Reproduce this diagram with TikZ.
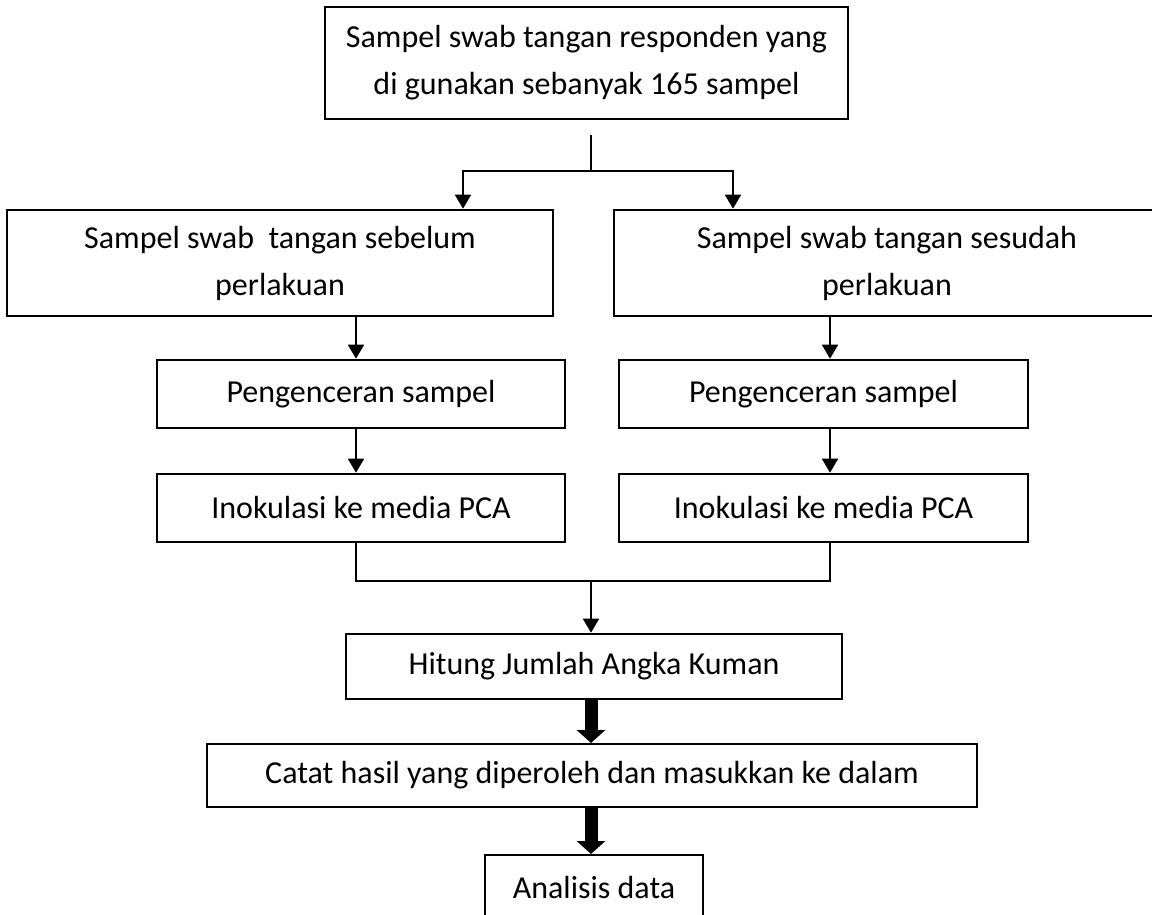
\documentclass[tikz,border=0pt]{standalone}
\usepackage{fontspec}
\setmainfont{Carlito}
\usetikzlibrary{arrows.meta}
\usetikzlibrary{calc}

\begin{document}
\begin{tikzpicture}[x=1pt, y=-1pt,
	box/.style={draw, line width=2.6pt, inner sep=0pt, align=center, font=\fontsize{32}{47}\selectfont},
	arr/.style={-{Triangle[width=16pt,length=14pt]}, line width=1.8pt},
	fatarr/.style={-{Triangle[width=28pt,length=13pt]}, line width=13pt},
	thinline/.style={line width=1.1pt}]
\useasboundingbox (0,0) rectangle (1152,915);

\node[box, minimum width=523pt, minimum height=112pt] (top) at (586.5,63) {Sampel swab tangan responden yang\\di gunakan sebanyak 165 sampel};

\node[box, minimum width=546pt, minimum height=106pt] (pre1) at (280,263) {Sampel swab\ \ tangan sebelum\\perlakuan};
\node[box, minimum width=546pt, minimum height=106pt] (post1) at (887,263) {Sampel swab tangan sesudah\\perlakuan\hspace{12pt}};

\node[box, minimum width=408pt, minimum height=68pt] (pre2) at (361,394) {Pengenceran sampel};
\node[box, minimum width=409pt, minimum height=68pt] (post2) at (823.5,394) {Pengenceran sampel};

\node[box, minimum width=408pt, minimum height=68pt] (pre3) at (361,508) {Inokulasi ke media PCA};
\node[box, minimum width=409pt, minimum height=68pt] (post3) at (823.5,508) {Inokulasi ke media PCA};

\node[box, minimum width=496pt, minimum height=65pt] (count) at (594,666.5) {Hitung Jumlah Angka Kuman};
\node[box, line width=2pt, minimum width=770pt, minimum height=63pt] (note) at (592,775.5) {Catat hasil yang diperoleh dan masukkan ke dalam};
\node[box, line width=2pt, minimum width=218pt, anchor=north, text height=43pt, text depth=40pt] (anal) at (594,854) {Analisis data};

% split below the first box
\coordinate (s0) at (591,135);
\coordinate (s1) at (591,171);
\coordinate (xl) at (356,0);
\coordinate (xr) at (830,0);
\coordinate (m1) at (591,581);

\draw[thinline] (s0) -- (s1);
\draw[arr] (s1) -| (pre1.north -| 463,0);
\draw[arr] (s1) -| (post1.north -| 733,0);

\draw[arr] (pre1.south -| xl) -- (pre2.north -| xl);
\draw[arr] (pre2.south -| xl) -- (pre3.north -| xl);
\draw[arr] (post1.south -| xr) -- (post2.north -| xr);
\draw[arr] (post2.south -| xr) -- (post3.north -| xr);

% merge
\draw[thinline] (pre3.south -| xl) |- (m1) -| (post3.south -| xr);
\draw[arr] (m1) -- (count.north -| m1);

\draw[fatarr] (count.south -| m1) -- (note.north -| m1);
\draw[fatarr] (note.south -| m1) -- (anal.north -| m1);
\end{tikzpicture}
\end{document}
